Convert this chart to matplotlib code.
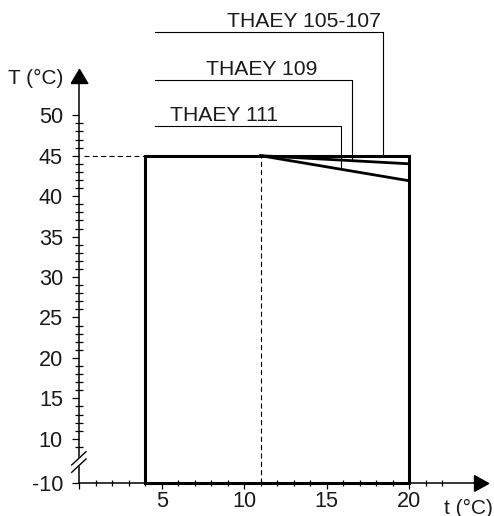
import matplotlib
matplotlib.use('Agg')
import matplotlib.pyplot as plt
import numpy as np

plt.rcParams['font.family'] = ['Liberation Sans', 'DejaVu Sans']

# operating field: water temperature t (x) against leaving temperature T (y)
t_min, t_max = 4, 20
T_min, T_max = -10, 45
t_knee = 11
models = ['THAEY 105-107', 'THAEY 109', 'THAEY 111']
T_end = [45, 44, 41.9]           # T reached at t_max for each model
leader_x = [18.43, 16.55, 15.85]
leader_y = [60.33, 54.36, 48.67]
label_x = [13.6, 11.08, 8.75]
label_y = [60.87, 54.94, 49.25]

y_major = [-10, 10, 15, 20, 25, 30, 35, 40, 45, 50]
y_labels = ['-10', '10', '15', '20', '25', '30', '35', '40', '45', '50']
y_minor = np.arange(9, 50)
x_major = [0, 5, 10, 15, 20]
x_labels = ['', '5', '10', '15', '20']
x_minor = np.arange(1, 23)

# broken y axis: everything below 9 is squeezed
BRK, K = 9.0, 0.2368


def fwd(y):
    y = np.asarray(y, float)
    return np.where(y >= BRK, y, BRK - (BRK - y) * K)


def inv(s):
    s = np.asarray(s, float)
    return np.where(s >= BRK, s, BRK - (BRK - s) / K)


ink = '#1a1a1a'
fig = plt.figure(figsize=(4.94, 5.16), dpi=100)
ax = fig.add_axes([0, 0, 1, 1])
ax.set_yscale('function', functions=(fwd, inv))
ax.set_xlim(-4.798, 25.13)
ax.set_ylim(-27.06, 64.25)

for s in ['top', 'right']:
    ax.spines[s].set_visible(False)
ax.spines['left'].set_position(('data', 0))
ax.spines['left'].set_bounds(-10, 54.0)
ax.spines['bottom'].set_position(('data', -10))
ax.spines['bottom'].set_bounds(0, 24.0)
for s in ['left', 'bottom']:
    ax.spines[s].set_linewidth(1.1)
    ax.spines[s].set_color('black')

ax.set_yticks(y_major)
ax.set_yticklabels(y_labels)
ax.set_yticks(y_minor, minor=True)
ax.set_xticks(x_major)
ax.set_xticklabels(x_labels)
ax.set_xticks(x_minor, minor=True)
ax.yaxis.set_minor_formatter(plt.NullFormatter())
ax.xaxis.set_minor_formatter(plt.NullFormatter())
ax.tick_params(axis='y', which='major', direction='out', length=5.3, width=0.9,
               pad=6.4, labelsize=15.6, labelcolor=ink)
ax.tick_params(axis='y', which='minor', direction='inout', length=5.2, width=0.9)
ax.tick_params(axis='x', which='major', direction='out', length=4.3, width=0.9,
               pad=1.0, labelsize=15.6, labelcolor=ink)
ax.tick_params(axis='x', which='minor', direction='inout', length=5.0, width=0.9)

# arrow heads
ax.plot(0, 54.86, marker=[(-8.3, -7), (8.3, -7), (0, 7), (-8.3, -7)],
        ms=11.95, color='black', clip_on=False, zorder=5)
ax.plot(24.35, -10, marker=[(-7, -7.8), (-7, 7.8), (7.15, 0), (-7, -7.8)],
        ms=11.2, color='black', clip_on=False, zorder=5)

# axis break
ax.fill([-0.454, 0.412, 0.412, -0.454], [-0.42, 6.51, 2.71, -4.26],
        color='white', zorder=3)
ax.plot([-0.454, 0.412], [-0.42, 6.51], color='black', lw=1.0, zorder=4)
ax.plot([-0.454, 0.412], [-4.26, 2.71], color='black', lw=1.0, zorder=4)

# guide lines
ax.plot([0.3, t_min], [T_max, T_max], color='black', lw=0.8, ls=(0, (4.5, 3)))
ax.plot([t_knee, t_knee], [T_min, T_max], color='black', lw=0.8, ls=(0, (4.5, 3)))

# operating envelope
ax.plot([t_min, t_min, t_max, t_max, t_min], [T_min, T_max, T_max, T_min, T_min],
        color='black', lw=2.2, solid_joinstyle='miter', zorder=4)
for end in T_end:
    if end != T_max:
        ax.plot([t_knee, t_max], [T_max, end], color='black', lw=2.0, zorder=4)

# model labels with leaders
for name, end, lx, ly, tx, ty in zip(models, T_end, leader_x, leader_y, label_x, label_y):
    T_hit = T_max + (end - T_max) * (lx - t_knee) / (t_max - t_knee)
    ax.plot([4.6, lx, lx], [ly, ly, T_hit], color='black', lw=0.8, zorder=3)
    ax.text(tx, ty, name, ha='center', va='baseline', fontsize=15.2, color=ink)

ax.text(-0.98, 54.57, 'T (°C)', ha='right', va='center', fontsize=15, color=ink)
ax.text(22.1, -25.76, 't (°C)', ha='left', va='baseline', fontsize=15, color=ink)

fig.savefig('out.png', dpi=100)
